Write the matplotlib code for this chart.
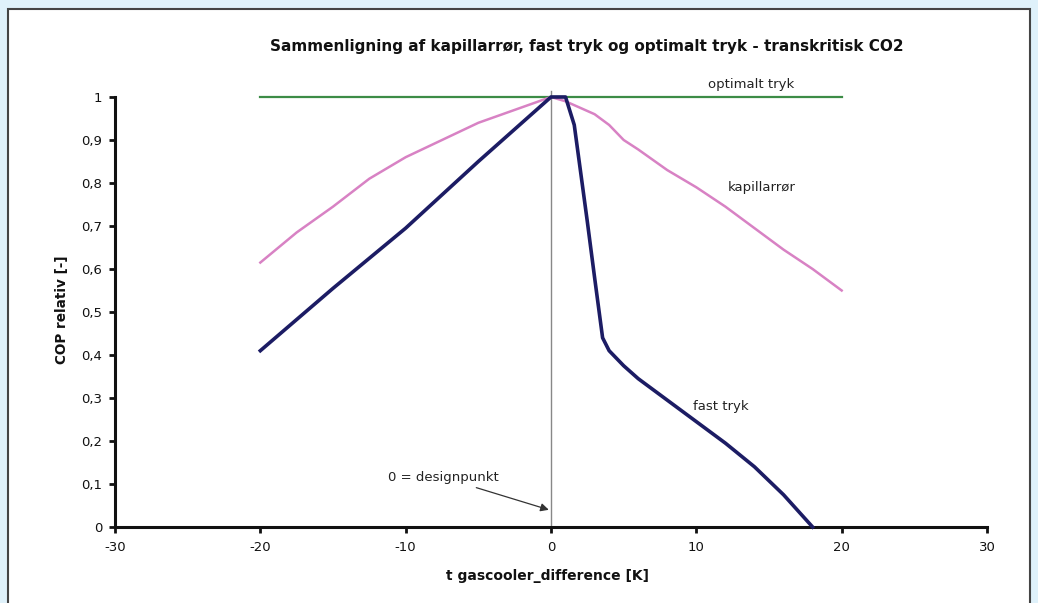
import matplotlib
matplotlib.use("Agg")
import matplotlib.pyplot as plt
from matplotlib.patches import Rectangle
from matplotlib.ticker import FuncFormatter

plt.rcParams['font.family'] = ['DejaVu Sans']

# Data
opt_x = [-20, 20]
opt_y = [1.0, 1.0]

kap_x = [-20, -17.5, -15, -12.5, -10, -7.5, -5, -2.5, 0, 1, 2, 3, 4, 5, 6, 8, 10, 12, 14, 16, 18, 20]
kap_y = [0.615, 0.685, 0.745, 0.81, 0.86, 0.90, 0.94, 0.97, 1.0, 0.99, 0.975, 0.96, 0.935, 0.90, 0.878, 0.83, 0.79, 0.745, 0.695, 0.645, 0.60, 0.55]

fast_x = [-20, -15, -10, -5, 0, 1, 1.6, 2.5, 3, 3.55, 4, 5, 6, 8, 10, 12, 14, 16, 18]
fast_y = [0.41, 0.555, 0.695, 0.85, 1.0, 1.0, 0.935, 0.71, 0.58, 0.44, 0.41, 0.375, 0.345, 0.295, 0.245, 0.195, 0.14, 0.075, 0.0]

x_ticks = [-30, -20, -10, 0, 10, 20, 30]
y_ticks = [0, 0.1, 0.2, 0.3, 0.4, 0.5, 0.6, 0.7, 0.8, 0.9, 1]

title = "Sammenligning af kapillarrør, fast tryk og optimalt tryk - transkritisk CO2"
xlabel = "t gascooler_difference [K]"
ylabel = "COP relativ [-]"

fig = plt.figure(figsize=(10.38, 6.03), dpi=100)
fig.patch.set_facecolor('#dff1fa')
fig.patches.append(Rectangle((8/1038, -0.01), (1030-8)/1038, 1 - 9/603 + 0.01,
                             transform=fig.transFigure, facecolor='white',
                             edgecolor='#444444', linewidth=1.5, zorder=-5))

ax = fig.add_axes([115/1038, 1-527/603, (987-115)/1038, (527-97)/603])
ax.set_facecolor('none')
ax.set_zorder(2)

ax.axvline(0, ymin=0, ymax=1.015, color='#888888', lw=1.0, clip_on=False, zorder=1)
ax.plot(opt_x, opt_y, color='#3c8c46', lw=1.6, clip_on=False, zorder=2)
ax.plot(kap_x, kap_y, color='#d882c4', lw=1.8, clip_on=False, zorder=3)
ax.plot(fast_x, fast_y, color='#1c1c64', lw=2.6, clip_on=False, zorder=4, solid_joinstyle='round')

ax.set_xlim(-30, 30)
ax.set_ylim(0, 1)
ax.set_xticks(x_ticks)
ax.set_yticks(y_ticks)
ax.yaxis.set_major_formatter(FuncFormatter(lambda v, p: ('%g' % v).replace('.', ',')))
ax.xaxis.set_major_formatter(FuncFormatter(lambda v, p: '%g' % v))
for s in ['top', 'right']:
    ax.spines[s].set_visible(False)
for s in ['left', 'bottom']:
    ax.spines[s].set_linewidth(2.2)
    ax.spines[s].set_color('#111111')
ax.tick_params(axis='both', direction='out', length=4, width=2, labelsize=9.5, colors='#111111')
ax.tick_params(axis='y', pad=5)
ax.tick_params(axis='x', pad=6)

ax.text(13.8, 1.028, 'optimalt tryk', fontsize=9.5, ha='center', va='center', color='#222222')
ax.text(14.5, 0.79, 'kapillarrør', fontsize=9.5, ha='center', va='center', color='#222222')
ax.text(11.7, 0.281, 'fast tryk', fontsize=9.5, ha='center', va='center', color='#222222')
ax.annotate('0 = designpunkt', xy=(-0.15, 0.04), xytext=(-3.6, 0.115),
            fontsize=9.5, ha='right', va='center', color='#222222',
            arrowprops=dict(arrowstyle='-|>', color='#333333', lw=0.9, mutation_scale=12,
                            shrinkA=2, shrinkB=0))

fig.text(587/1038, 1-47/603, title, fontsize=11, fontweight='bold', ha='center', va='center', color='#111111')
fig.text(548/1038, 1-576/603, xlabel, fontsize=10, fontweight='bold', ha='center', va='center', color='#111111')
fig.text(62/1038, 1-310/603, ylabel, fontsize=9.8, fontweight='bold', ha='center', va='center', rotation=90, color='#111111')

fig.savefig('out.png', dpi=100, facecolor=fig.get_facecolor())
